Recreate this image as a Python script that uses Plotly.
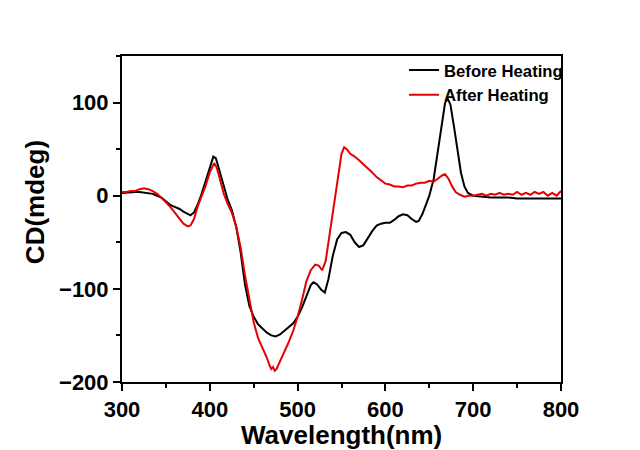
import plotly.graph_objects as go

# Before Heating (black)
wl_before = [300, 305, 310, 315, 320, 325, 330, 335, 340, 345, 350, 355, 360, 365, 370, 375, 378,
             382, 386, 390, 395, 400, 404, 407, 410, 415, 420, 425, 430, 435, 440, 445, 450, 455,
             460, 465, 470, 475, 480, 485, 490, 495, 500, 505, 510, 515, 518, 522, 527, 531, 535,
             540, 545, 550, 555, 560, 565, 570, 575, 580, 585, 590, 595, 600, 605, 610, 615, 620,
             625, 630, 635, 638, 642, 646, 650, 655, 660, 665, 668, 671, 674, 678, 682, 686, 690,
             694, 700, 710, 720, 730, 740, 750, 760, 770, 780, 790, 800]
cd_before = [3, 3.5, 4, 4, 4, 3.5, 3, 2, 0, -2, -6, -10, -12, -14, -17, -20, -21,
             -18, -10, 0, 15, 32, 42, 40, 30, 12, -3, -15, -33, -60, -95, -118, -130, -138,
             -143, -147, -150, -151, -149, -145, -140, -137, -130, -120, -108, -96, -93, -95, -101, -104, -90,
             -65, -47, -40, -39, -42, -50, -55, -53, -45, -38, -32, -30, -29, -29, -26, -22, -20,
             -21, -25, -28, -27, -20, -10, 0, 18, 50, 85, 100, 104, 98, 75, 48, 25, 10,
             3, 0, -1, -2, -2, -2, -3, -3, -3, -3, -3, -3]

# After Heating (red)
wl_after = [300, 305, 310, 315, 320, 325, 330, 335, 340, 345, 350, 355, 360, 365, 370, 375, 378,
            382, 386, 390, 395, 400, 405, 408, 412, 416, 420, 425, 430, 435, 440, 445, 450, 455,
            460, 465, 468, 470, 472, 474, 476, 480, 485, 490, 495, 500, 505, 510, 515, 520, 524,
            528, 532, 536, 540, 545, 550, 553, 556, 560, 565, 570, 575, 580, 585, 590, 595, 600,
            605, 610, 615, 620, 625, 630, 635, 640, 645, 650, 655, 660, 665, 668, 672, 676, 680,
            685, 690, 695, 700, 705, 710, 715, 720, 725, 730, 735, 740, 745, 750, 755, 760, 765,
            770, 775, 780, 785, 790, 795, 800]
cd_after = [4, 4, 5, 5, 7, 8, 7, 5, 2, -2, -7, -12, -18, -24, -30, -33, -32,
            -25, -12, -2, 10, 25, 35, 30, 15, 2, -8, -18, -33, -55, -85, -112, -136, -153,
            -163, -174, -182, -186, -184, -188, -186, -178, -168, -157, -145, -130, -112, -92, -80, -74, -75,
            -80, -70, -45, -20, 15, 45, 52, 50, 45, 42, 38, 34, 30, 25, 20, 16, 13,
            12, 10, 10, 9, 11, 11, 13, 14, 14, 16, 15, 19, 22, 23, 18, 10, 4,
            1, -1, 0, 0, 1, 2, 0, 2, 1, 3, 1, 2, 1, 4, 1, 3, 1,
            4, 2, 4, 0, 3, 0, 5]

x_ticks = [300, 400, 500, 600, 700, 800]
y_ticks = [-200, -100, 0, 100]

FONT = "Liberation Sans"

fig = go.Figure()
fig.add_trace(go.Scatter(x=wl_before, y=cd_before, mode="lines", name="Before Heating",
                         line=dict(color="black", width=2)))
fig.add_trace(go.Scatter(x=wl_after, y=cd_after, mode="lines", name="After Heating",
                         line=dict(color="#e60000", width=2)))

axis_common = dict(showgrid=False, zeroline=False, showline=True, linecolor="black", linewidth=2,
                   mirror=True, ticks="outside", ticklen=7, tickwidth=2, tickcolor="black",
                   tickfont=dict(family=FONT, size=22, color="black", weight="bold"))

fig.update_xaxes(range=[300, 800], tickvals=x_ticks,
                 minor=dict(ticks="outside", dtick=50, ticklen=4, tickwidth=2, tickcolor="black"),
                 **axis_common)
fig.update_yaxes(range=[-200, 150], tickvals=y_ticks,
                 minor=dict(ticks="outside", dtick=50, ticklen=4, tickwidth=2, tickcolor="black"),
                 **axis_common)

fig.update_layout(
    width=640, height=450,
    margin=dict(l=122, r=79, t=56, b=68),
    plot_bgcolor="white", paper_bgcolor="white",
    legend=dict(x=1.016, xanchor="right", y=1.01, yanchor="top", bgcolor="rgba(0,0,0,0)",
                font=dict(family=FONT, size=16.7, color="black", weight="bold"),
                tracegroupgap=0, itemwidth=30),
    annotations=[
        dict(text="Wavelength(nm)", xref="paper", yref="paper", x=0.5, y=-0.162,
             xanchor="center", yanchor="middle", showarrow=False,
             font=dict(family=FONT, size=26, color="black", weight="bold")),
        dict(text="CD(mdeg)", xref="paper", yref="paper", x=-0.198, y=0.552, textangle=-90,
             xanchor="center", yanchor="middle", showarrow=False,
             font=dict(family=FONT, size=26, color="black", weight="bold")),
    ],
)

fig.write_html("out.html", config={"displayModeBar": False},
               post_script="document.body.style.margin='0';document.body.style.overflow='hidden';")
